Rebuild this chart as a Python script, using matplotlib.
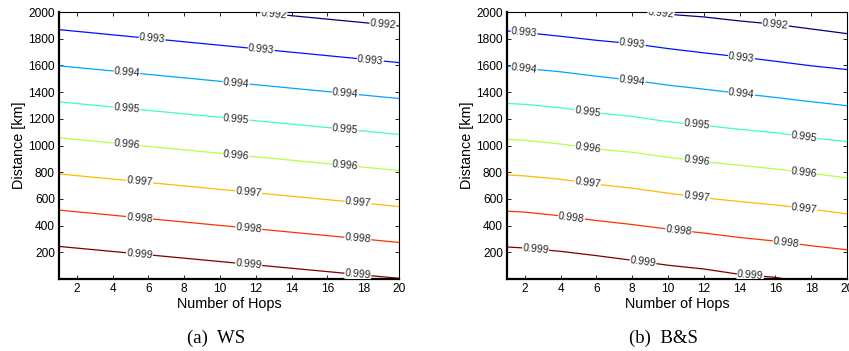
import numpy as np
import matplotlib.pyplot as plt

plt.rcParams['font.family'] = ['Liberation Sans', 'DejaVu Sans']

# Niveles de las curvas de nivel
levels = [0.992, 0.993, 0.994, 0.995, 0.996, 0.997, 0.998, 0.999]

# (a) WS: curvas rectas, distancia [km] en hop 1 y hop 20
ws_hops = [1, 20]
ws_dist = [
    [2140, 1895],
    [1868, 1621],
    [1597, 1352],
    [1327, 1083],
    [1058, 812],
    [787, 543],
    [516, 274],
    [244, 5],
]

# (b) B&S: curvas algo onduladas
bs_hops = [1, 2, 4, 6, 8, 10, 12, 14, 16, 18, 20]
bs_dist = [
    [2100, 2090, 2070, 2040, 2010, 1983, 1963, 1933, 1908, 1873, 1838],
    [1858, 1846, 1818, 1788, 1763, 1726, 1694, 1664, 1631, 1597, 1569],
    [1594, 1577, 1552, 1519, 1489, 1452, 1422, 1390, 1360, 1328, 1298],
    [1315, 1308, 1283, 1245, 1218, 1178, 1151, 1121, 1096, 1058, 1029],
    [1046, 1039, 1011, 974, 949, 912, 879, 852, 824, 792, 757],
    [780, 772, 747, 710, 680, 643, 608, 580, 555, 523, 488],
    [508, 501, 473, 438, 408, 374, 344, 311, 284, 249, 219],
    [240, 232, 207, 175, 140, 103, 75, 35, 12, -30, -60],
]

# Posiciones (hop) de las etiquetas
ws_lab = [[13.0, 19.1], [6.2, 12.3, 18.4]] + [[4.8, 10.9, 17.0]] * 3 + [[5.5, 11.6, 17.7]] * 3
bs_lab = ([[9.6, 16.0]] + [[1.95, 8.0, 14.1]] * 2 + [[5.5, 11.6, 17.6]] * 3
          + [[4.6, 10.6, 16.6], [2.6, 8.6, 14.6]])

cols = plt.cm.jet(np.linspace(0, 1, len(levels)))

fig = plt.figure(figsize=(8.49, 3.51), dpi=100)
ax1 = fig.add_axes([59 / 849, 72 / 351, 340 / 849, 267 / 351])
ax2 = fig.add_axes([507 / 849, 72 / 351, 340 / 849, 267 / 351])


def dibujar(ax, hops, dist, labs):
    for lev, d, c, lx in zip(levels, dist, cols, labs):
        ax.plot(hops, d, color=c, lw=0.9)
        for x in lx:
            y = np.interp(x, hops, d)
            dy = np.interp(x + 0.5, hops, d) - np.interp(x - 0.5, hops, d)
            ang = np.degrees(np.arctan2(dy, 1.0))
            ax.text(x, y, f"{lev:.3f}", fontsize=7.5, color='#222222',
                    ha='center', va='center', rotation=ang,
                    transform_rotates_text=True, rotation_mode='anchor',
                    bbox=dict(fc='white', ec='none', pad=0.3), clip_on=True)
    ax.set_xlim(1, 20)
    ax.set_ylim(0, 2000)
    ax.set_xticks(range(2, 21, 2))
    ax.set_yticks(range(200, 2001, 200))
    ax.tick_params(direction='in', top=True, right=True, labelsize=8.6,
                   length=3, width=0.6, pad=3)
    ax.set_xlabel("Number of Hops", fontsize=10.4, labelpad=1)
    ax.set_ylabel("Distance [km]", fontsize=10.4, labelpad=2)
    for s in ['left', 'bottom']:
        ax.spines[s].set_linewidth(1.6)
    for s in ['top', 'right']:
        ax.spines[s].set_linewidth(0.8)


dibujar(ax1, ws_hops, ws_dist, ws_lab)
dibujar(ax2, bs_hops, bs_dist, bs_lab)

fig.text(216 / 849, 1 - 338 / 351, "(a)  WS", fontsize=13.5, family='Liberation Serif',
         ha='center', va='center')
fig.text(663 / 849, 1 - 338 / 351, "(b)  B&S", fontsize=13.5, family='Liberation Serif',
         ha='center', va='center')

fig.savefig("out.png", dpi=100)
